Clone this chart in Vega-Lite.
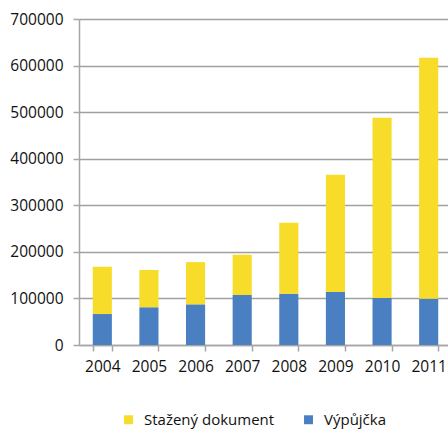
{
  "$schema": "https://vega.github.io/schema/vega-lite/v6.json",
  "width": 373,
  "height": 326,
  "autosize": {"type": "none"},
  "padding": {"left": 79, "top": 19, "right": 0, "bottom": 85},
  "background": "white",
  "data": {
    "values": [
      {"year": "2004", "type": "Výpůjčka", "value": 66500},
      {"year": "2004", "type": "Stažený dokument", "value": 101500},
      {"year": "2005", "type": "Výpůjčka", "value": 81000},
      {"year": "2005", "type": "Stažený dokument", "value": 80000},
      {"year": "2006", "type": "Výpůjčka", "value": 87300},
      {"year": "2006", "type": "Stažený dokument", "value": 90700},
      {"year": "2007", "type": "Výpůjčka", "value": 107300},
      {"year": "2007", "type": "Stažený dokument", "value": 86500},
      {"year": "2008", "type": "Výpůjčka", "value": 110000},
      {"year": "2008", "type": "Stažený dokument", "value": 152400},
      {"year": "2009", "type": "Výpůjčka", "value": 113700},
      {"year": "2009", "type": "Stažený dokument", "value": 251800},
      {"year": "2010", "type": "Výpůjčka", "value": 100900},
      {"year": "2010", "type": "Stažený dokument", "value": 386900},
      {"year": "2011", "type": "Výpůjčka", "value": 99400},
      {"year": "2011", "type": "Stažený dokument", "value": 517600}
    ]
  },
  "config": {
    "view": {"stroke": null},
    "font": "Open Sans"
  },
  "mark": {"type": "bar"},
  "encoding": {
    "x": {
      "field": "year",
      "type": "ordinal",
      "scale": {"paddingInner": 0.59, "paddingOuter": 0.295},
      "axis": {
        "title": null,
        "labelAngle": 0,
        "labelFont": "Open Sans",
        "labelFontSize": 15.5,
        "labelColor": "#111111",
        "labelPadding": 8,
        "domainColor": "#A6A6A6",
        "domainWidth": 1.5,
        "tickColor": "#A6A6A6",
        "tickWidth": 1.5,
        "tickSize": 6,
        "tickBand": "extent",
        "grid": false
      }
    },
    "y": {
      "field": "value",
      "type": "quantitative",
      "stack": "zero",
      "scale": {"domain": [0, 700000], "nice": false},
      "axis": {
        "title": null,
        "format": "d",
        "values": [0, 100000, 200000, 300000, 400000, 500000, 600000, 700000],
        "labelFont": "Open Sans",
        "labelFontSize": 15.5,
        "labelColor": "#111111",
        "labelPadding": 10,
        "tickSize": 6,
        "tickColor": "#A6A6A6",
        "tickWidth": 1.5,
        "domainColor": "#A6A6A6",
        "domainWidth": 1.5,
        "grid": true,
        "gridColor": "#A0A0A0",
        "gridWidth": 1.3
      }
    },
    "color": {
      "field": "type",
      "type": "nominal",
      "scale": {
        "domain": ["Stažený dokument", "Výpůjčka"],
        "range": ["#F7DC2A", "#4A7FC1"]
      },
      "legend": {
        "title": null,
        "orient": "none",
        "direction": "horizontal",
        "legendX": 42,
        "legendY": 393,
        "symbolType": "square",
        "symbolSize": 80,
        "symbolStrokeWidth": 0,
        "labelFont": "Open Sans",
        "labelFontSize": 15,
        "labelColor": "#111111",
        "labelOffset": 8,
        "columnPadding": 26
      }
    },
    "order": {"field": "type", "sort": "descending"}
  }
}
